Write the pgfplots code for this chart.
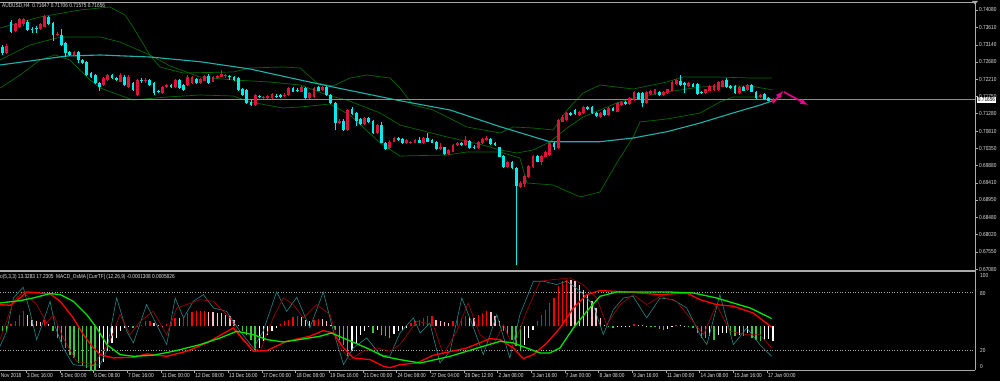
\documentclass[border=0pt]{standalone}
\usepackage{fontspec}
\setmainfont{Liberation Sans}[FakeStretch=0.82]
\usepackage{pgfplots}
\usepackage{pgfplotstable}
\pgfplotsset{compat=1.18}
\definecolor{bull}{RGB}{220,20,60}
\definecolor{bear}{RGB}{0,235,235}
\definecolor{maline}{RGB}{32,178,170}
\definecolor{bband}{RGB}{0,105,0}
\definecolor{axgray}{RGB}{170,170,170}
\definecolor{bidgray}{RGB}{140,140,140}
\definecolor{txt}{RGB}{225,225,225}
\definecolor{osred}{RGB}{255,0,0}
\definecolor{ospink}{RGB}{255,190,200}
\definecolor{osgreen}{RGB}{60,200,60}
\definecolor{limeln}{RGB}{0,230,0}
\definecolor{stmain}{RGB}{35,135,135}
\definecolor{stsig}{RGB}{170,0,0}
\newcommand\mtf{\fontsize{5.8}{6.5}\selectfont}

\pgfplotstableread{
i o h l c
0 0.73089 0.73135 0.72865 0.72911
1 0.72919 0.73162 0.72892 0.73108
2 0.73764 0.73810 0.73459 0.73494
3 0.73513 0.73729 0.73486 0.73702
4 0.73629 0.73856 0.73594 0.73824
5 0.73702 0.73864 0.73648 0.73837
6 0.73764 0.73810 0.73513 0.73540
7 0.73567 0.73621 0.73459 0.73548
8 0.73594 0.73648 0.73459 0.73554
9 0.73559 0.73729 0.73540 0.73702
10 0.73629 0.73932 0.73621 0.73918
11 0.73899 0.73918 0.73675 0.73702
12 0.73721 0.73756 0.73251 0.73405
13 0.73419 0.73486 0.73378 0.73440
14 0.73405 0.73559 0.73108 0.73135
15 0.73181 0.73216 0.72819 0.72911
16 0.72954 0.72973 0.72838 0.72865
17 0.72865 0.72973 0.72838 0.72954
18 0.72954 0.72973 0.72641 0.72730
19 0.72730 0.72757 0.72622 0.72641
20 0.72684 0.72703 0.72298 0.72325
21 0.72371 0.72406 0.72244 0.72279
22 0.72325 0.72352 0.72082 0.72101
23 0.72101 0.72136 0.71901 0.71993
24 0.72055 0.72271 0.72028 0.72236
25 0.72190 0.72352 0.72163 0.72325
26 0.72325 0.72352 0.72217 0.72236
27 0.72236 0.72271 0.72163 0.72190
28 0.72144 0.72379 0.72123 0.72325
29 0.72279 0.72325 0.72028 0.72055
30 0.72009 0.72325 0.71974 0.72279
31 0.72101 0.72136 0.71893 0.71920
32 0.71785 0.72217 0.71758 0.72190
33 0.72195 0.72244 0.72109 0.72176
34 0.72176 0.72244 0.72109 0.72196
35 0.72190 0.72217 0.72028 0.72055
36 0.72117 0.72136 0.71785 0.71831
37 0.71880 0.71920 0.71839 0.71862
38 0.71831 0.72028 0.71812 0.71993
39 0.71993 0.72082 0.71974 0.72055
40 0.72055 0.72082 0.71974 0.71993
41 0.72009 0.72217 0.71974 0.72190
42 0.72190 0.72217 0.71947 0.71966
43 0.72055 0.72082 0.71893 0.71920
44 0.72055 0.72312 0.72028 0.72279
45 0.72117 0.72298 0.72082 0.72263
46 0.72209 0.72244 0.72082 0.72101
47 0.72117 0.72244 0.72082 0.72209
48 0.72171 0.72325 0.72150 0.72298
49 0.72298 0.72352 0.72095 0.72117
50 0.72144 0.72298 0.72123 0.72263
51 0.72236 0.72325 0.72217 0.72298
52 0.72279 0.72460 0.72258 0.72352
53 0.72294 0.72352 0.72244 0.72312
54 0.72285 0.72325 0.72190 0.72267
55 0.72279 0.72298 0.72163 0.72190
56 0.72236 0.72271 0.71893 0.71920
57 0.71939 0.71974 0.71758 0.71785
58 0.71920 0.71947 0.71529 0.71561
59 0.71604 0.71650 0.71488 0.71515
60 0.71515 0.71812 0.71488 0.71785
61 0.71745 0.71785 0.71704 0.71727
62 0.71718 0.71758 0.71690 0.71736
63 0.71696 0.71785 0.71677 0.71758
64 0.71696 0.71839 0.71677 0.71812
65 0.71765 0.71812 0.71704 0.71747
66 0.71785 0.71812 0.71704 0.71723
67 0.71780 0.71839 0.71731 0.71798
68 0.71785 0.71988 0.71758 0.71966
69 0.71966 0.71988 0.71853 0.71874
70 0.71924 0.71974 0.71866 0.71906
71 0.71874 0.72028 0.71853 0.71993
72 0.71966 0.72001 0.71677 0.71696
73 0.71696 0.71866 0.71664 0.71831
74 0.71739 0.72001 0.71704 0.71966
75 0.71993 0.72028 0.71880 0.71901
76 0.71920 0.72028 0.71893 0.71993
77 0.71993 0.72028 0.71758 0.71785
78 0.71785 0.71812 0.71555 0.71577
79 0.71577 0.71604 0.70840 0.71021
80 0.71021 0.71124 0.70989 0.71091
81 0.71091 0.71124 0.70813 0.70840
82 0.70840 0.71407 0.70813 0.71380
83 0.71399 0.71469 0.71245 0.71272
84 0.71307 0.71326 0.70948 0.71091
85 0.71129 0.71164 0.70975 0.71002
86 0.71002 0.71199 0.70975 0.71156
87 0.71156 0.71191 0.71029 0.71064
88 0.71091 0.71110 0.70732 0.70751
89 0.70751 0.71002 0.70732 0.70975
90 0.70975 0.71064 0.70476 0.70497
91 0.70497 0.70516 0.70300 0.70319
92 0.70346 0.70557 0.70327 0.70524
93 0.70524 0.70651 0.70503 0.70616
94 0.70616 0.70651 0.70543 0.70570
95 0.70589 0.70624 0.70449 0.70481
96 0.70481 0.70597 0.70462 0.70570
97 0.70481 0.70551 0.70462 0.70524
98 0.70497 0.70597 0.70476 0.70570
99 0.70570 0.70659 0.70476 0.70497
100 0.70481 0.70651 0.70462 0.70616
101 0.70616 0.70751 0.70503 0.70524
102 0.70570 0.70597 0.70476 0.70497
103 0.70524 0.70543 0.70300 0.70319
104 0.70319 0.70497 0.70300 0.70389
105 0.70373 0.70389 0.70165 0.70192
106 0.70192 0.70327 0.70165 0.70300
107 0.70254 0.70462 0.70233 0.70435
108 0.70435 0.70503 0.70408 0.70481
109 0.70481 0.70503 0.70408 0.70435
110 0.70435 0.70678 0.70408 0.70570
111 0.70543 0.70570 0.70327 0.70346
112 0.70389 0.70422 0.70327 0.70346
113 0.70346 0.70551 0.70327 0.70524
114 0.70481 0.70616 0.70462 0.70589
115 0.70570 0.70678 0.70543 0.70616
116 0.70589 0.70616 0.70435 0.70462
117 0.70497 0.70516 0.70408 0.70435
118 0.70373 0.70389 0.70098 0.70119
119 0.70138 0.70165 0.69814 0.69833
120 0.69833 0.70011 0.69814 0.69984
121 0.69984 0.70003 0.69787 0.69806
122 0.69806 0.69828 0.67195 0.69328
123 0.69309 0.69450 0.69266 0.69417
124 0.69382 0.69625 0.69309 0.69598
125 0.69563 0.69895 0.69544 0.69868
126 0.69833 0.70165 0.69814 0.70138
127 0.70138 0.70165 0.69963 0.69984
128 0.69984 0.70165 0.69895 0.70138
129 0.70119 0.70273 0.70098 0.70254
130 0.70165 0.70524 0.70138 0.70497
131 0.70497 0.70516 0.70300 0.70373
132 0.70346 0.71137 0.70327 0.71110
133 0.71064 0.71232 0.71043 0.71199
134 0.71110 0.71313 0.71083 0.71291
135 0.71307 0.71334 0.71218 0.71245
136 0.71380 0.71407 0.71245 0.71272
137 0.71245 0.71361 0.71218 0.71334
138 0.71291 0.71488 0.71272 0.71453
139 0.71453 0.71480 0.71380 0.71399
140 0.71453 0.71475 0.71272 0.71291
141 0.71307 0.71326 0.71191 0.71218
142 0.71183 0.71313 0.71164 0.71291
143 0.71380 0.71407 0.71218 0.71245
144 0.71245 0.71448 0.71218 0.71426
145 0.71426 0.71448 0.71340 0.71361
146 0.71334 0.71604 0.71313 0.71577
147 0.71515 0.71623 0.71488 0.71604
148 0.71604 0.71623 0.71515 0.71542
149 0.71542 0.71718 0.71515 0.71696
150 0.71650 0.71893 0.71623 0.71874
151 0.71831 0.71853 0.71650 0.71669
152 0.71831 0.71853 0.71453 0.71561
153 0.71577 0.71893 0.71555 0.71874
154 0.71812 0.71920 0.71785 0.71901
155 0.71812 0.71960 0.71785 0.71939
156 0.71874 0.71893 0.71758 0.71785
157 0.71785 0.71893 0.71758 0.71874
158 0.71831 0.71960 0.71812 0.71939
159 0.71901 0.72163 0.71880 0.72144
160 0.72082 0.72217 0.72055 0.72190
161 0.72171 0.72325 0.72028 0.72055
162 0.72117 0.72136 0.71831 0.72055
163 0.72028 0.72123 0.72001 0.72101
164 0.72082 0.72109 0.71988 0.72009
165 0.72082 0.72109 0.71785 0.71812
166 0.71874 0.71893 0.71799 0.71831
167 0.71831 0.71960 0.71812 0.71939
168 0.71901 0.72055 0.71880 0.72028
169 0.71920 0.72082 0.71893 0.72055
170 0.71920 0.72163 0.71893 0.72144
171 0.72009 0.72190 0.71988 0.72171
172 0.72190 0.72236 0.71974 0.71993
173 0.72028 0.72055 0.71947 0.71966
174 0.72028 0.72055 0.71812 0.71831
175 0.71831 0.72015 0.71812 0.71993
176 0.72009 0.72028 0.71880 0.71901
177 0.71920 0.72082 0.71893 0.72055
178 0.72055 0.72082 0.71853 0.71874
179 0.71874 0.71893 0.71664 0.71696
180 0.71723 0.71812 0.71704 0.71785
181 0.71812 0.71839 0.71637 0.71669
182 0.71696 0.71718 0.71610 0.71631
183 0.71647 0.71706 0.71575 0.71656
}\ohlc

\pgfplotstableread{
i h k
0 -4.5 3
1 -5.0 3
2 2.0 1
3 5.3 1
4 12.2 1
5 15.7 1
6 12.2 2
7 7.0 2
8 6.0 2
9 4.5 2
10 7.0 1
11 2.0 2
12 -5.0 3
13 -12.0 3
14 -16.0 3
15 -23.0 3
16 -30.0 3
17 -33.0 3
18 -38.0 3
19 -42.0 3
20 -44.0 3
21 -47.0 3
22 -49.0 3
23 -44.0 4
24 -37.0 4
25 -26.0 4
26 -17.0 4
27 -12.0 4
28 -5.0 4
29 -2.0 4
30 -1.0 4
31 -2.0 3
32 0.8 1
33 1.5 1
34 5.3 1
35 5.3 1
36 3.5 2
37 1.5 2
38 0.8 2
39 2.5 1
40 4.5 1
41 8.8 1
42 8.8 2
43 9.4 1
44 14.0 1
45 15.0 1
46 15.7 1
47 15.7 1
48 15.9 1
49 15.5 2
50 15.0 2
51 14.0 2
52 13.5 2
53 12.2 2
54 10.5 2
55 7.0 2
56 1.8 2
57 -5.2 3
58 -8.7 3
59 -13.9 3
60 -24.4 3
61 -22.7 4
62 -15.7 4
63 -8.7 4
64 -5.2 4
65 -1.7 4
66 2.5 1
67 5.3 1
68 7.0 1
69 9.5 1
70 10.5 1
71 9.5 2
72 7.0 2
73 6.0 2
74 7.0 1
75 8.0 1
76 8.0 2
77 6.0 2
78 1.8 2
79 -3.5 3
80 -13.9 3
81 -19.2 3
82 -31.4 3
83 -26.1 4
84 -17.4 4
85 -8.7 4
86 -5.2 4
87 -1.0 4
88 -7.0 3
89 -3.5 4
90 -8.7 3
91 -10.4 3
92 -12.2 3
93 -8.0 4
94 -5.2 4
95 -3.5 4
96 -1.7 4
97 3.0 1
98 5.3 1
99 7.0 1
100 8.8 1
101 10.5 1
102 10.6 1
103 7.0 2
104 6.0 2
105 4.6 2
106 3.5 2
107 5.3 1
108 8.0 1
109 8.8 1
110 10.5 1
111 9.5 2
112 8.8 2
113 12.2 1
114 14.0 1
115 15.7 1
116 15.0 2
117 10.5 2
118 5.3 2
119 -5.2 3
120 -8.7 3
121 -13.9 3
122 -20.9 3
123 -26.1 3
124 -19.2 4
125 -12.2 4
126 -3.5 4
127 5.3 1
128 12.2 1
129 17.5 1
130 24.5 1
131 29.7 1
132 41.9 1
133 47.1 1
134 48.9 1
135 48.5 2
136 47.1 2
137 43.6 2
138 38.4 2
139 33.2 2
140 26.2 2
141 19.2 2
142 8.8 2
143 1.8 2
144 -1.0 3
145 -1.7 3
146 -1.0 4
147 -0.7 4
148 -0.5 4
149 -0.3 4
150 2.5 1
151 1.8 2
152 1.0 2
153 0.5 2
154 -1.0 3
155 -1.2 3
156 -2.4 3
157 -3.5 3
158 -2.4 4
159 -1.0 4
160 1.8 1
161 1.8 2
162 0.5 2
163 -0.5 3
164 -1.7 3
165 -7.0 3
166 -12.2 3
167 -12.4 3
168 -10.4 4
169 -13.9 3
170 -8.7 4
171 -7.0 4
172 -6.5 4
173 -8.7 3
174 -10.4 3
175 -8.7 4
176 -10.4 3
177 -7.0 4
178 -12.2 3
179 -13.9 3
180 -15.0 3
181 -13.9 4
182 -12.9 4
183 -15.0 4
}\osma

\begin{document}
\begin{tikzpicture}
\useasboundingbox (0,0) rectangle (1000pt,381pt);
\fill[black] (0,0) rectangle (1000pt,381pt);

% ---------------- main price panel ----------------
\begin{axis}[
  at={(0pt,111pt)}, anchor=south west,
  scale only axis, width=975pt, height=268pt,
  xmin=-0.6, xmax=231, ymin=0.6706, ymax=0.74296,
  axis y line*=right, axis x line*=top,
  axis line style={draw=axgray, line width=0.8pt},
  xtick=\empty,
  ytick={0.6708,0.6755,0.6802,0.6848,0.6895,0.6941,0.6988,0.7035,0.7081,0.7128,0.7175,0.7221,0.7268,0.7314,0.7361,0.7408},
  yticklabels={0.67080,0.67550,0.68020,0.68480,0.68950,0.69410,0.69880,0.70350,0.70810,0.71280,0.71750,0.72210,0.72680,0.73140,0.73610,0.74080},
  tick align=outside, major tick length=3pt,
  ytick style={draw=axgray, line width=0.5pt},
  yticklabel style={font=\mtf, text=txt, inner sep=1pt},
  scaled y ticks=false,
]
% Bollinger bands
\addplot[bband, line width=0.7pt] coordinates {(-0.6,0.73594) (8.9,0.73891) (18.4,0.74080) (25.5,0.74161) (29.1,0.73945) (31.0,0.73621) (35.0,0.72865) (37.4,0.72541) (42.9,0.72379) (54.8,0.72406) (58.8,0.72514) (66.6,0.72541) (70.7,0.72514) (74.7,0.72109) (78.5,0.72028) (82.5,0.72244) (86.6,0.72325) (92.0,0.72244) (94.4,0.71974) (97.5,0.71515) (102.3,0.71380) (110.3,0.70921) (118.2,0.70759) (121.3,0.70921) (126.0,0.70894) (130.8,0.70840) (134.1,0.71380) (137.9,0.71839) (141.9,0.72055) (145.9,0.72001) (149.8,0.71947) (157.8,0.72136) (161.6,0.72271) (169.7,0.72271) (177.6,0.72244) (182.8,0.72244)};
\addplot[bband, line width=0.7pt] coordinates {(-0.6,0.72730) (6.5,0.73135) (13.7,0.73351) (23.2,0.73351) (27.9,0.73216) (35.0,0.72865) (39.8,0.72568) (46.9,0.72271) (54.8,0.72190) (63.5,0.72136) (70.7,0.72055) (77.8,0.71758) (81.8,0.71650) (89.7,0.71299) (94.4,0.70975) (105.6,0.70651) (114.1,0.70435) (118.2,0.70300) (122.2,0.70219) (126.0,0.70300) (130.0,0.70516) (134.1,0.70894) (137.9,0.71191) (141.9,0.71380) (145.9,0.71569) (149.8,0.71704) (153.8,0.71785) (157.8,0.71866) (165.7,0.72001) (170.4,0.72028) (177.6,0.72028) (183.0,0.71920)};
\addplot[bband, line width=0.7pt] coordinates {(-0.6,0.71974) (4.2,0.72325) (8.9,0.72730) (12.5,0.72865) (16.0,0.72730) (20.8,0.72190) (23.2,0.71974) (31.0,0.71650) (39.1,0.71731) (46.9,0.71785) (54.8,0.71758) (58.8,0.71596) (66.6,0.71434) (70.7,0.71461) (77.8,0.71542) (82.5,0.71245) (89.7,0.70489) (94.4,0.70138) (105.6,0.70165) (110.3,0.70246) (118.2,0.70246) (122.9,0.70084) (124.6,0.69409) (130.8,0.69355) (137.2,0.69031) (141.9,0.69166) (145.9,0.69949) (149.8,0.70651) (151.4,0.71056) (157.8,0.71137) (165.7,0.71299) (170.4,0.71596) (173.5,0.71731) (181.6,0.71731) (183.0,0.71650)};
% moving average
\addplot[maline, line width=1.1pt] coordinates {(-0.6,0.72595) (15.3,0.72838) (23.2,0.72865) (35.0,0.72811) (46.9,0.72684) (58.8,0.72487) (70.7,0.72190) (78.5,0.72001) (94.4,0.71631) (106.3,0.71380) (118.2,0.70929) (130.0,0.70524) (141.9,0.70524) (149.8,0.70624) (157.8,0.70794) (165.7,0.71029) (173.5,0.71299) (180.0,0.71515) (183.0,0.71631)};
% bid line
\addplot[bidgray, line width=0.6pt] coordinates {(-0.6,0.71656) (231,0.71656)};
% candles: wicks and bodies
\addplot[bear, line width=0.8pt, quiver={u=0, v={\thisrow{h}-\thisrow{l}}},
  restrict expr to domain={\thisrow{c}-\thisrow{o}}{-1:-0.000001}] table[x=i, y=l] {\ohlc};
\addplot[bull, line width=0.8pt, quiver={u=0, v={\thisrow{h}-\thisrow{l}}},
  restrict expr to domain={\thisrow{c}-\thisrow{o}}{0:1}] table[x=i, y=l] {\ohlc};
\addplot[bear, line width=2.8pt, quiver={u=0, v={\thisrow{c}-\thisrow{o}}},
  restrict expr to domain={\thisrow{c}-\thisrow{o}}{-1:-0.000001}] table[x=i, y=o] {\ohlc};
\addplot[bull, line width=2.8pt, quiver={u=0, v={\thisrow{c}-\thisrow{o}}},
  restrict expr to domain={\thisrow{c}-\thisrow{o}}{0:1}] table[x=i, y=o] {\ohlc};
% arrows
\addplot[magenta, line width=1.6pt, -latex] coordinates {(183.0,0.71569) (185.4,0.71893)};
\addplot[magenta, line width=1.6pt, -latex] coordinates {(185.6,0.71866) (191.3,0.71515)};
\end{axis}

% ---------------- oscillator panel ----------------
\begin{axis}[
  at={(0pt,11pt)}, anchor=south west,
  scale only axis, width=975pt, height=99pt,
  xmin=-0.6, xmax=231, ymin=-0.94, ymax=102.7,
  axis y line*=right, axis x line*=bottom,
  axis line style={draw=axgray, line width=0.8pt},
  ytick=\empty,
  xtick={5.6,13.6,21.6,29.6,37.6,45.6,53.6,61.6,69.6,77.6,85.6,93.6,101.6,109.6,117.6,125.6,133.6,141.6,149.6,157.6,165.6,173.6,181.6},
  xticklabels={3 Dec 16:00,5 Dec 00:00,6 Dec 08:00,7 Dec 16:00,11 Dec 00:00,12 Dec 08:00,13 Dec 16:00,17 Dec 00:00,18 Dec 08:00,19 Dec 16:00,21 Dec 00:00,24 Dec 08:00,27 Dec 04:00,28 Dec 12:00,2 Jan 08:00,3 Jan 16:00,7 Jan 00:00,8 Jan 08:00,9 Jan 16:00,11 Jan 00:00,14 Jan 08:00,15 Jan 16:00,17 Jan 00:00},
  tick align=outside, major tick length=2.5pt,
  xtick style={draw=axgray, line width=0.5pt},
  xticklabel style={font=\mtf, text=txt, anchor=north west, inner sep=0.8pt},
]
\addplot[axgray, dotted, line width=0.6pt] coordinates {(-0.6,80) (231,80)};
\addplot[axgray, dotted, line width=0.6pt] coordinates {(-0.6,20) (231,20)};
% OsMA histogram
\addplot[osred, line width=1.3pt, quiver={u=0, v={\thisrow{h}}}, restrict expr to domain={\thisrow{k}}{1:1}] table[x=i, y expr=44.8] {\osma};
\addplot[ospink, line width=1.3pt, quiver={u=0, v={\thisrow{h}}}, restrict expr to domain={\thisrow{k}}{2:2}] table[x=i, y expr=44.8] {\osma};
\addplot[osgreen, line width=1.3pt, quiver={u=0, v={\thisrow{h}}}, restrict expr to domain={\thisrow{k}}{3:3}] table[x=i, y expr=44.8] {\osma};
\addplot[white, line width=1.3pt, quiver={u=0, v={\thisrow{h}}}, restrict expr to domain={\thisrow{k}}{4:4}] table[x=i, y expr=44.8] {\osma};
% stochastic main
\addplot[stmain, line width=0.6pt] coordinates {(-0.6,23.9) (1.0,39.6) (2.6,74.5) (4.9,85.7) (6.5,60.5) (8.1,30.9) (9.7,50) (11.3,71) (12.5,44.8) (14.4,22.1) (16.8,4.7) (20.0,3) (23.2,4.7) (24.7,18.7) (27.1,74.5) (29.5,39.6) (31.1,27.4) (34.2,67.5) (36.6,46.6) (39.0,25.6) (41.0,74.5) (43.0,53.6) (45.3,71) (47.7,78) (50.1,64) (53.2,60.5) (56.4,39.6) (59.6,22.1) (61.9,39.6) (65.1,80.8) (67.5,60.5) (69.9,75.2) (73.0,43.1) (76.2,80.8) (78.6,39.6) (81.0,4.7) (83.3,22.1) (86.5,32.6) (89.7,15.2) (92.0,13.4) (94.4,37.8) (97.6,53.6) (99.2,37.8) (101.5,48.3) (103.9,6.4) (106.3,18.7) (109.1,74.5) (111.0,53.6) (114.2,15.2) (117.4,57) (120.5,11.7) (122.9,57) (126.1,92) (128.5,92) (131.6,88.5) (134.0,92) (137.2,81.5) (140.3,67.5) (142.7,36.1) (145.1,62.3) (147.5,74.5) (149.8,76.2) (153.0,53.6) (156.2,74.5) (159.3,72.7) (162.5,64) (165.7,36.1) (167.3,25.6) (170.4,78) (173.6,25.6) (176.8,43.1) (179.9,25.6) (182.7,13.4)};
% stochastic signal
\addplot[stsig, line width=0.6pt] coordinates {(-0.6,30.9) (2.6,71) (4.9,80.8) (8.1,67.5) (10.5,48.3) (12.1,57) (14.4,32.6) (17.6,8.2) (21.6,4.7) (25.5,29.1) (27.9,57) (30.3,36.1) (32.7,50) (35.8,60.5) (39.0,36.1) (41.4,64) (43.7,67.5) (46.9,72.7) (50.1,71) (54.0,53.6) (57.2,29.1) (61.2,18.7) (64.3,53.6) (66.7,74.5) (69.1,67.5) (71.5,53.6) (74.6,67.5) (77.8,57) (80.2,22.1) (82.5,9.9) (85.7,18.7) (88.9,22.1) (92.0,18.7) (94.4,25.6) (98.4,50) (102.3,46.6) (104.7,15.2) (107.9,39.6) (110.6,69.2) (113.4,36.1) (116.6,25.6) (119.0,46.6) (121.3,22.1) (124.5,60.5) (127.7,92) (130.8,93.7) (134.8,95.4) (137.9,88.5) (141.1,74.5) (143.5,46.6) (146.7,67.5) (149.8,78) (153.0,67.5) (156.2,76.2) (160.1,71) (163.3,53.6) (166.5,36.1) (169.6,67.5) (172.8,39.6) (176.8,36.1) (179.9,36.1) (182.7,22.1)};
% thick red line
\addplot[osred, line width=1.3pt] coordinates {(-0.6,67.5) (1.8,66.8) (4.2,74.5) (5.7,80.8) (11.3,78.7) (13.7,71) (16.8,53.6) (19.2,36.1) (21.6,22.1) (23.2,15.2) (26.3,11.7) (31.1,12.4) (34.3,15.9) (39.0,13.4) (43.8,18.7) (48.5,27.4) (54.8,43.1) (57.2,30.9) (59.6,18.7) (62.8,19.4) (67.5,29.1) (73.0,34.4) (76.2,40.3) (78.6,37.8) (81.0,22.1) (83.3,11.7) (87.3,9.9) (90.5,3) (92.0,1.5) (94.4,4.7) (98.4,6.4) (102.3,14.5) (110.3,22.1) (115.8,31.9) (118.2,30.9) (121.3,22.1) (123.7,11) (126.1,15.2) (129.3,27.4) (132.4,43) (135.6,64) (138.8,78) (141.9,82.2) (148.3,80.8) (156.2,78) (162.5,79.7) (165.7,72.7) (169.6,67.5) (173.6,65.8) (178.3,58.8) (182.7,43.8)};
% thick green line
\addplot[limeln, line width=1.3pt] coordinates {(-0.6,69.2) (4.2,71.7) (7.3,74.5) (11.3,79) (13.7,78) (16.8,71) (20.0,57) (22.4,43) (24.8,25.6) (27.9,15.2) (31.1,13.4) (35.8,14.5) (40.6,18.7) (46.9,25.6) (51.7,32.6) (55.6,39.6) (59.6,36) (62.8,30.9) (66.7,28.4) (70.7,31) (75.4,34.4) (78.1,37.8) (81.8,30.9) (86.5,22.1) (90.5,13.4) (94.4,9.9) (99.2,6.4) (106.3,13.4) (114.2,23.9) (118.2,29.1) (121.3,27.4) (124.5,22.1) (127.7,16.9) (130.0,16.9) (132.4,22.1) (135.6,43) (138.8,60.5) (141.9,76.2) (145.9,80.8) (157.8,80.8) (164.1,79.7) (169.6,74.5) (173.6,69.2) (177.6,64) (182.7,52.9)};
\end{axis}

% panel separator and decorations
\draw[axgray, line width=1.8pt] (0pt,109.8pt) -- (976pt,109.8pt);
\fill[axgray] (972pt,380pt) -- (978pt,380pt) -- (975pt,376.5pt) -- cycle;
\node[anchor=west, font=\mtf, text=txt, inner sep=0pt] at (2pt,375pt) {AUDUSD,H4\ \ 0.71647 0.71706 0.71575 0.71656};
\node[anchor=west, font=\mtf, text=txt, inner sep=0pt] at (0pt,104pt) {o(5,3,3) 13.3283 17.2305\ \ MACD\_OsMA [CurrTF] (12,26,9) -0.0001308 0.0005826};
\node[anchor=west, font=\mtf, fill=white, text=black, inner sep=0.7pt] at (977pt,281pt) {0.71656};
\node[anchor=west, font=\mtf, text=txt, inner sep=0pt] at (980pt,105pt) {100};
\node[anchor=west, font=\mtf, text=txt, inner sep=0pt] at (980pt,88pt) {80};
\node[anchor=west, font=\mtf, text=txt, inner sep=0pt] at (980pt,31pt) {20};
\node[anchor=west, font=\mtf, text=txt, inner sep=0pt] at (980pt,14.3pt) {0};
\node[anchor=north west, font=\mtf, text=txt, inner sep=0.8pt] at (0pt,8.5pt) {Nov 2018};
\end{tikzpicture}
\end{document}
